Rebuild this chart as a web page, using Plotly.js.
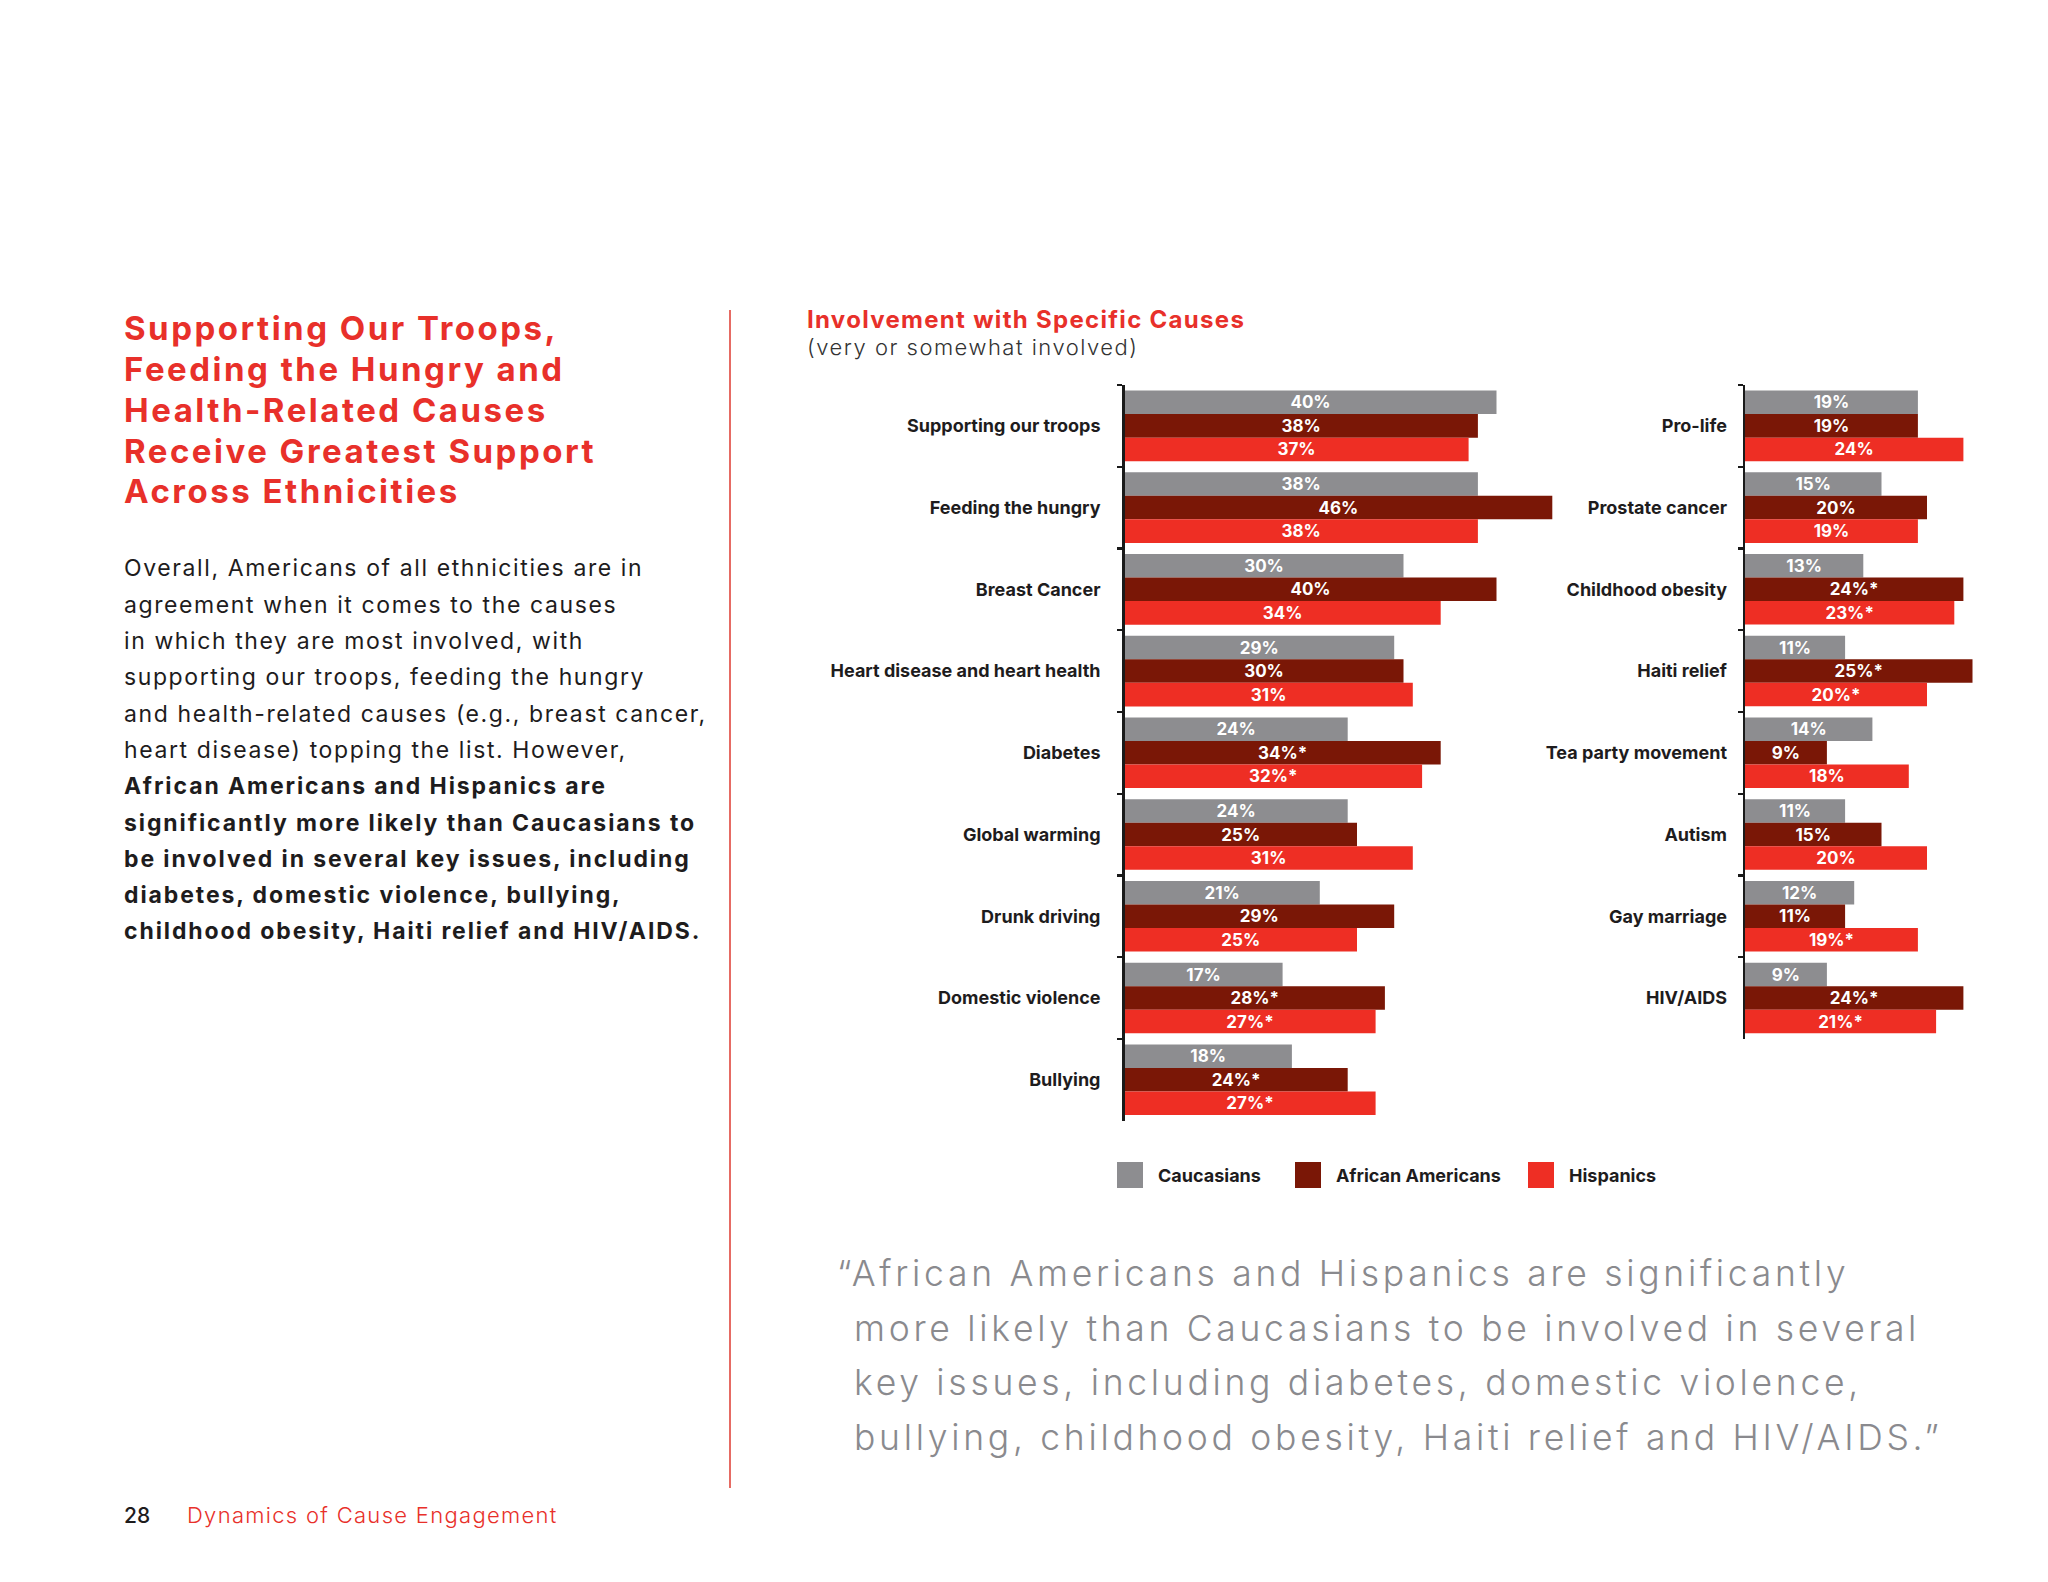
<!DOCTYPE html>
<html>
<head>
<meta charset="utf-8">
<script src="https://cdn.plot.ly/plotly-3.0.1.min.js"></script>
<style>
html,body{margin:0;padding:0;background:#ffffff;}
#chart{width:2048px;height:1582px;}
</style>
</head>
<body>
<div id="chart"></div>
<script>
// ---------- DATA ----------
const seriesNames = ['Caucasians', 'African Americans', 'Hispanics'];
const seriesColors = ['#8d8d90', '#7a1706', '#ee2e24'];

const leftCategories = ['Supporting our troops', 'Feeding the hungry', 'Breast Cancer',
  'Heart disease and heart health', 'Diabetes', 'Global warming', 'Drunk driving',
  'Domestic violence', 'Bullying'];
const leftCaucasians = [40, 38, 30, 29, 24, 24, 21, 17, 18];
const leftAfricanAmericans = [38, 46, 40, 30, 34, 25, 29, 28, 24];
const leftHispanics = [37, 38, 34, 31, 32, 31, 25, 27, 27];
const leftCaucasiansSig = [0, 0, 0, 0, 0, 0, 0, 0, 0];
const leftAfricanAmericansSig = [0, 0, 0, 0, 1, 0, 0, 1, 1];
const leftHispanicsSig = [0, 0, 0, 0, 1, 0, 0, 1, 1];

const rightCategories = ['Pro-life', 'Prostate cancer', 'Childhood obesity', 'Haiti relief',
  'Tea party movement', 'Autism', 'Gay marriage', 'HIV/AIDS'];
const rightCaucasians = [19, 15, 13, 11, 14, 11, 12, 9];
const rightAfricanAmericans = [19, 20, 24, 25, 9, 15, 11, 24];
const rightHispanics = [24, 19, 23, 20, 18, 20, 19, 21];
const rightCaucasiansSig = [0, 0, 0, 0, 0, 0, 0, 0];
const rightAfricanAmericansSig = [0, 0, 1, 1, 0, 0, 0, 1];
const rightHispanicsSig = [0, 0, 1, 1, 0, 0, 1, 1];

const headingLines = ['Supporting Our Troops,', 'Feeding the Hungry and', 'Health-Related Causes',
  'Receive Greatest Support', 'Across Ethnicities'];
const bodyLines = ['Overall, Americans of all ethnicities are in',
  'agreement when it comes to the causes',
  'in which they are most involved, with',
  'supporting our troops, feeding the hungry',
  'and health-related causes (e.g., breast cancer,',
  'heart disease) topping the list. However,'];
const bodyBoldLines = ['African Americans and Hispanics are',
  'significantly more likely than Caucasians to',
  'be involved in several key issues, including',
  'diabetes, domestic violence, bullying,',
  'childhood obesity, Haiti relief and HIV/AIDS.'];
const chartTitle = 'Involvement with Specific Causes';
const chartSubtitle = '(very or somewhat involved)';
const quoteLines = ['\u201cAfrican Americans and Hispanics are significantly',
  'more likely than Caucasians to be involved in several',
  'key issues, including diabetes, domestic violence,',
  'bullying, childhood obesity, Haiti relief and HIV/AIDS.\u201d'];
const pageNumber = '28';
const footerText = 'Dynamics of Cause Engagement';

// ---------- LAYOUT HELPERS ----------
const W = 2048, H = 1582;
const FONT = 'Inter, "Noto Sans", sans-serif';
const px = v => v / W;
const py = v => 1 - v / H;
const RED = '#e8302a';
const DARK = '#1e1c1d';

function labels(vals, sig) {
  return vals.map((v, i) => v + '%' + (sig[i] ? '*' : ''));
}

function makeBar(vals, sig, idx, cats, xa, ya) {
  return {
    type: 'bar', orientation: 'h',
    x: vals, y: cats,
    xaxis: xa, yaxis: ya,
    name: seriesNames[idx],
    marker: {color: seriesColors[idx], line: {width: 0}},
    text: labels(vals, sig),
    textposition: 'inside',
    insidetextanchor: 'middle',
    textangle: 0,
    constraintext: 'none',
    textfont: {family: FONT, size: 17, color: '#ffffff', weight: 700},
    hoverinfo: 'skip',
    showlegend: false,
    cliponaxis: false
  };
}

const data = [
  makeBar(leftCaucasians, leftCaucasiansSig, 0, leftCategories, 'x', 'y'),
  makeBar(leftAfricanAmericans, leftAfricanAmericansSig, 1, leftCategories, 'x', 'y'),
  makeBar(leftHispanics, leftHispanicsSig, 2, leftCategories, 'x', 'y'),
  makeBar(rightCaucasians, rightCaucasiansSig, 0, rightCategories, 'x2', 'y2'),
  makeBar(rightAfricanAmericans, rightAfricanAmericansSig, 1, rightCategories, 'x2', 'y2'),
  makeBar(rightHispanics, rightHispanicsSig, 2, rightCategories, 'x2', 'y2')
];

function yAxis(domTop, domBottom, standoff) {
  return {
    type: 'category',
    domain: [py(domBottom), py(domTop)],
    autorange: 'reversed',
    showline: true, linecolor: '#1a1a1a', linewidth: 2.4,
    ticks: 'outside', tickson: 'boundaries', ticklen: 5, tickwidth: 2.2, tickcolor: '#1a1a1a',
    ticklabelstandoff: standoff,
    showgrid: false, zeroline: false,
    tickfont: {family: FONT, size: 18, color: DARK, weight: 700},
    fixedrange: true
  };
}

const annotations = [];
const annSpacing = [];
function addText(text, x, baseline, size, color, weight, spacing) {
  annotations.push({
    text: text, xref: 'paper', yref: 'paper',
    x: px(x), y: py(baseline - 0.36 * size),
    xanchor: 'left', yanchor: 'middle',
    showarrow: false, align: 'left', borderpad: 0,
    font: {family: FONT, size: size, color: color, weight: weight}
  });
  annSpacing.push(spacing || 0);
}

headingLines.forEach((t, i) => addText(t, 123, 340 + 40.8 * i, 33, RED, 700, 2.5));
bodyLines.forEach((t, i) => addText(t, 123, 576.7 + 36.3 * i, 23, DARK, 400, 1.6));
bodyBoldLines.forEach((t, i) => addText(t, 123, 576.7 + 36.3 * (i + bodyLines.length), 23, DARK, 700, 1.9));
addText(chartTitle, 806, 328.5, 24, RED, 700, 1.3);
addText(chartSubtitle, 806, 355, 22, '#333333', 300, 1.5);
quoteLines.forEach((t, i) => addText(t, i === 0 ? 836 : 853, 1286.7 + 54.4 * i, 35.5, '#8a8a8e', 300, 3.7));
addText(pageNumber, 123, 1523, 21, DARK, 500, 0);
addText(footerText, 186, 1523, 22, RED, 300, 1.3);

// legend (manual, larger swatches)
const legendSwatchX = [1117, 1295, 1528];
const shapes = [];
seriesNames.forEach((n, i) => {
  shapes.push({type: 'rect', xref: 'paper', yref: 'paper',
    x0: px(legendSwatchX[i]), x1: px(legendSwatchX[i] + 26),
    y0: py(1188), y1: py(1162),
    fillcolor: seriesColors[i], line: {width: 0}});
  annotations.push({text: n, xref: 'paper', yref: 'paper',
    x: px(legendSwatchX[i] + 40), y: py(1175.5), xanchor: 'left', yanchor: 'middle',
    showarrow: false, borderpad: 0,
    font: {family: FONT, size: 18, color: DARK, weight: 700}});
  annSpacing.push(0);
});
// vertical divider
shapes.push({type: 'line', xref: 'paper', yref: 'paper',
  x0: px(730), x1: px(730), y0: py(310), y1: py(1488),
  line: {color: '#e0463d', width: 1.6}});

const layout = {
  width: W, height: H,
  margin: {l: 0, r: 0, t: 0, b: 0},
  paper_bgcolor: '#ffffff', plot_bgcolor: 'rgba(0,0,0,0)',
  barmode: 'group', bargap: 0.137, bargroupgap: 0,
  showlegend: false,
  font: {family: FONT},
  xaxis: {domain: [px(1124.5), px(1124.5 + 9.3 * 50)], range: [0, 50], visible: false, fixedrange: true, anchor: 'y'},
  yaxis: Object.assign(yAxis(385, 1120.7, 18), {anchor: 'x'}),
  xaxis2: {domain: [px(1745), px(1745 + 9.1 * 30)], range: [0, 30], visible: false, fixedrange: true, anchor: 'y2'},
  yaxis2: Object.assign(yAxis(385, 385 + 8 * 81.74, 12), {anchor: 'x2'}),
  annotations: annotations,
  shapes: shapes
};

Plotly.newPlot('chart', data, layout, {staticPlot: true, displayModeBar: false}).then(gd => {
  gd.querySelectorAll('g.annotation').forEach(g => {
    const i = +g.getAttribute('data-index');
    const sp = annSpacing[i];
    const t = g.querySelector('text.annotation-text');
    if (t && sp) t.style.letterSpacing = sp + 'px';
  });
});
</script>
</body>
</html>
